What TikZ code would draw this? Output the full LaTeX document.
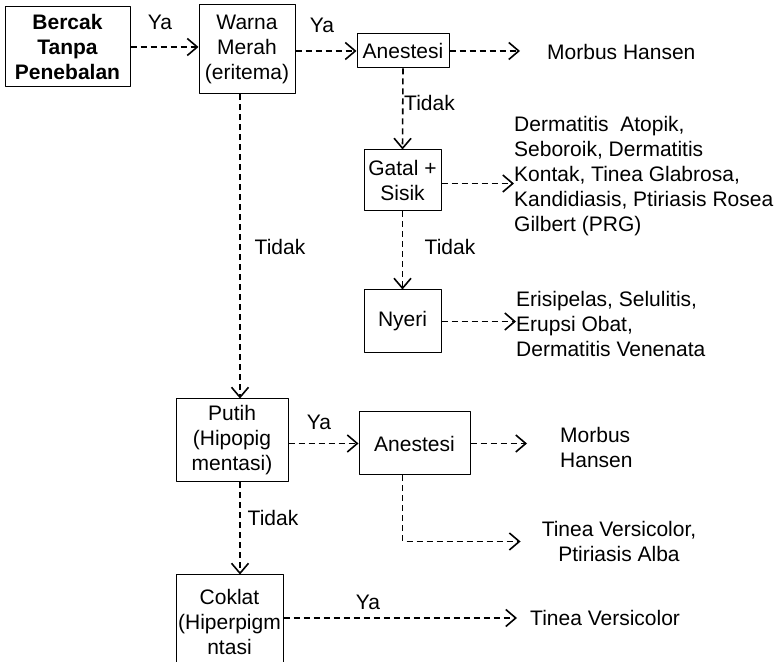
\documentclass[tikz,border=0pt]{standalone}
\usepackage{fontspec}
\setmainfont{Liberation Sans}
\usetikzlibrary{arrows.meta}
\begin{document}
\begin{tikzpicture}[line join=bevel,
  every node/.style={font=\fontsize{21bp}{25bp}\selectfont},
  kotak/.style={draw,line width=1bp,inner sep=0pt,align=center},
  panah/.style={-{Straight Barb[length=10bp,width=17bp]},line width=1.6bp,dash pattern=on 6bp off 4bp},
  ]
\useasboundingbox (0bp,0bp) rectangle (780bp,662bp);
%%
\node (bercak) at (67.5bp,615.0bp) [kotak,minimum width=125bp,minimum height=80bp,font=\fontsize{21bp}{25bp}\selectfont\bfseries] {Bercak\\Tanpa\\Penebalan};
  \node (warna) at (247.0bp,612.5bp) [kotak,minimum width=96bp,minimum height=89bp] {Warna\\Merah\\(eritema)};
  \node (anes_1) at (403.0bp,611.0bp) [kotak,minimum width=92bp,minimum height=34bp] {Anestesi};
  \node (hansen_1) at (547.0bp,610.0bp) [anchor=west,inner sep=0pt] {Morbus Hansen};
  \node (gatal) at (402.5bp,481.5bp) [kotak,minimum width=77bp,minimum height=61bp] {Gatal +\\Sisik};
  \node (derm) at (514.0bp,485.5bp) [anchor=west,inner sep=0pt,align=left] {Dermatitis\ \ Atopik,\\Seboroik, Dermatitis\\Kontak, Tinea Glabrosa,\\Kandidiasis, Ptiriasis Rosea\\Gilbert (PRG)};
  \node (nyeri) at (402.5bp,340.5bp) [kotak,minimum width=77bp,minimum height=63bp] {Nyeri};
  \node (eris) at (516.0bp,338.5bp) [anchor=west,inner sep=0pt,align=left] {Erisipelas, Selulitis,\\Erupsi Obat,\\Dermatitis Venenata};
  \node (putih) at (232.0bp,221.5bp) [kotak,minimum width=112bp,minimum height=83bp] {Putih\\(Hipopig\\mentasi)};
  \node (anes_2) at (414.5bp,218.5bp) [kotak,minimum width=111bp,minimum height=63bp] {Anestesi};
  \node (hansen_2) at (560.0bp,214.5bp) [anchor=west,inner sep=0pt,align=left] {Morbus\\Hansen};
  \node (tv_pa) at (619.0bp,120.5bp) [inner sep=0pt,align=center] {Tinea Versicolor,\\Ptiriasis Alba};
  \node (coklat) at (229.5bp,40.5bp) [kotak,minimum width=107bp,minimum height=93bp] {Coklat\\(Hiperpigm\\ntasi};
  \node (tv) at (530.0bp,44.0bp) [anchor=west,inner sep=0pt] {Tinea Versicolor};
%%
\node (ya_1) at (160.0bp,640.0bp) {Ya};
  \node (ya_2) at (322.0bp,637.0bp) {Ya};
  \node (tidak_1) at (404.0bp,559.0bp) [anchor=west,inner sep=0pt] {Tidak};
  \node (tidak_2) at (450.0bp,415.0bp) {Tidak};
  \node (tidak_3) at (280.0bp,415.0bp) {Tidak};
  \node (ya_3) at (319.0bp,240.0bp) {Ya};
  \node (tidak_4) at (273.0bp,144.0bp) {Tidak};
  \node (ya_4) at (368.0bp,60.0bp) {Ya};
%%
\draw [panah] (bercak.east) -- (bercak.east -| warna.west);
  \draw [panah] (warna.east |- anes_1) -- (anes_1.west);
  \draw [panah,shorten >=27bp] (anes_1.east) -- (anes_1.east -| hansen_1.west);
  \draw [panah] (anes_1.south) -- (gatal.north);
  \draw [panah] ([yshift=-3bp]gatal.east) -- ([yshift=-3bp]gatal.east -| derm.west);
  \draw [panah] (gatal.south) -- (nyeri.north);
  \draw [panah] (nyeri.east) -- (nyeri.east -| eris.west);
  \draw [panah] ([xshift=-7bp]warna.south) -- ([xshift=-7bp]warna.south |- putih.north);
  \draw [panah] (putih.east |- anes_2) -- (anes_2.west);
  \draw [panah,shorten >=33bp] (anes_2.east) -- (anes_2.east -| hansen_2.west);
  \draw [panah,shorten >=21bp] ([xshift=-12bp]anes_2.south) |- (tv_pa.west);
  \draw [panah] ([xshift=8bp]putih.south) -- ([xshift=8bp]putih.south |- coklat.north);
  \draw [panah,shorten >=13bp] (tv.west -| coklat.east) -- (tv.west);
%
\end{tikzpicture}
\end{document}
